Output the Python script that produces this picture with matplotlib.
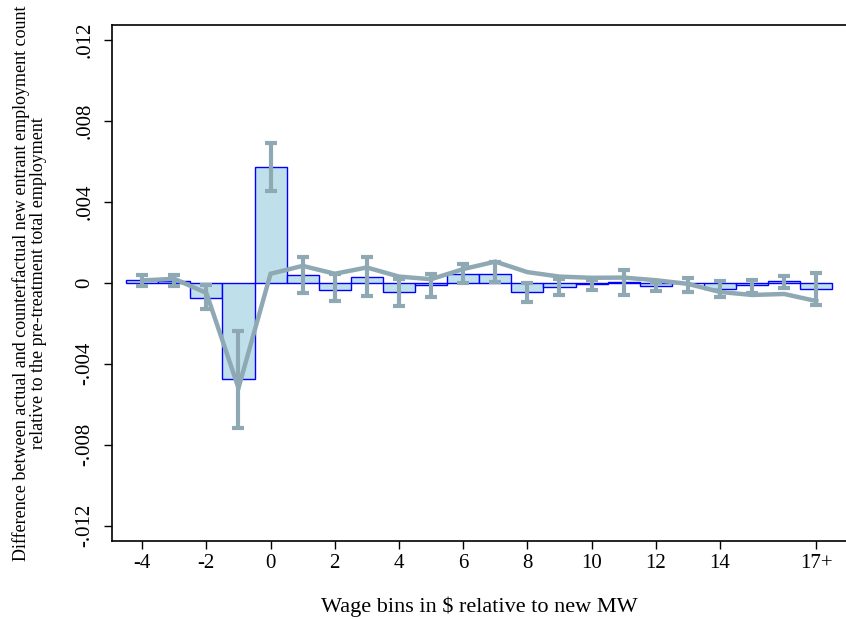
import matplotlib
matplotlib.use("Agg")
import matplotlib.pyplot as plt
import numpy as np

bins = list(range(-4, 18))
bar_values = [0.00013, 0.00008, -0.00074, -0.00475, 0.00572, 0.00040, -0.00035, 0.00030,
              -0.00045, -0.00012, 0.00046, 0.00046, -0.00046, -0.00022, -0.00007, 0.00005,
              -0.00018, -0.00003, -0.00028, -0.00010, 0.00007, -0.00028]
ci_upper = [0.00040, 0.00040, -0.00010, -0.00237, 0.00693, 0.00130, 0.00045, 0.00130,
            0.00020, 0.00046, 0.00095, 0.00105, 0.00000, 0.00020, 0.00015, 0.00065,
            0.00005, 0.00023, 0.00008, 0.00016, 0.00036, 0.00048]
ci_lower = [-0.00015, -0.00017, -0.00130, -0.00720, 0.00454, -0.00050, -0.00092, -0.00066,
            -0.00112, -0.00070, 0.00000, 0.00005, -0.00095, -0.00060, -0.00037, -0.00060,
            -0.00041, -0.00046, -0.00070, -0.00050, -0.00026, -0.00108]
line_values = [0.00012, 0.00020, -0.00050, -0.00520, 0.00045, 0.00084, 0.00045, 0.00076,
               0.00031, 0.00018, 0.00068, 0.00105, 0.00053, 0.00031, 0.00025, 0.00026,
               0.00013, -0.00005, -0.00045, -0.00060, -0.00055, -0.00090]
xtick_pos = [-4, -2, 0, 2, 4, 6, 8, 10, 12, 14, 17]
xtick_labels = ["-4", "-2", "0", "2", "4", "6", "8", "10", "12", "14", "17+"]
ytick_pos = [-0.012, -0.008, -0.004, 0, 0.004, 0.008, 0.012]
ytick_labels = ["-.012", "-.008", "-.004", "0", ".004", ".008", ".012"]

plt.rcParams['font.family'] = ['Liberation Serif', 'DejaVu Serif']

fig = plt.figure(figsize=(8.46, 6.19), dpi=100)
W, H = 846, 619
left, right, top, bottom = 112, 847, 25, 540.7
ax = fig.add_axes([left / W, (H - bottom) / H, (right - left) / W, (bottom - top) / H])

bar_fill = "#bfe0ea"
bar_edge = "#0000ff"
line_col = "#8fa9b4"

ax.bar(bins, bar_values, width=1.0, color=bar_fill, edgecolor=bar_edge, linewidth=1.0, zorder=2)
ax.plot(bins, line_values, color=line_col, linewidth=3.2, zorder=3, solid_joinstyle='miter')
vals = np.array(bar_values)
yerr = np.array([vals - np.array(ci_lower), np.array(ci_upper) - vals])
ax.errorbar(bins, bar_values, yerr=yerr, fmt='none', ecolor=line_col, elinewidth=3.0,
            capsize=4, capthick=3.0, zorder=4)

ax.set_xlim(-4.94, -4.94 + (right - left) / 32.1)
ax.set_ylim(-0.01275, 0.01275)

ax.set_xticks(xtick_pos)
ax.set_xticklabels(xtick_labels, fontsize=15)
ax.set_yticks(ytick_pos)
ax.set_yticklabels(ytick_labels, fontsize=15, rotation=90, va='center')
ax.tick_params(axis='both', direction='out', length=5.8, width=1.0, color='black')
ax.tick_params(axis='x', pad=3.5)
ax.tick_params(axis='y', pad=7)

for s in ax.spines.values():
    s.set_linewidth(1.2)
    s.set_color('black')

ax.set_xlabel("Wage bins in $ relative to new MW", fontsize=16, labelpad=17)
ax.set_ylabel("Difference between actual and counterfactual new entrant employment count\n"
              "relative to the pre-treatment total employment", fontsize=13, labelpad=20,
              linespacing=1.0)

fig.savefig("out.png", dpi=100)
